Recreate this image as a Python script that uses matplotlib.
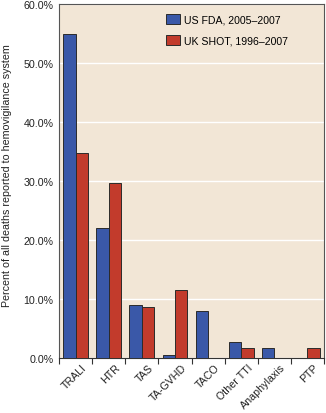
import matplotlib
matplotlib.use("Agg")
import matplotlib.pyplot as plt
import matplotlib.transforms as mtransforms
import numpy as np
from matplotlib.patches import Patch

plt.rcParams['font.family'] = ['Liberation Sans', 'DejaVu Sans']

categories = ["TRALI", "HTR", "TAS", "TA-GVHD", "TACO", "Other TTI", "Anaphylaxis", "PTP"]
us_fda = [55.0, 22.0, 9.0, 0.5, 8.0, 2.7, 1.7, 0.0]
uk_shot = [34.7, 29.6, 8.7, 11.5, 0.0, 1.7, 0.0, 1.7]
series_labels = ["US FDA, 2005\u20132007", "UK SHOT, 1996\u20132007"]
yticks = [0, 10, 20, 30, 40, 50, 60]

blue = "#3a58a8"
red = "#c23b2c"
bg = "#f2e6d6"
edge = "#2b2b2b"
txt = "#222222"

fig = plt.figure(figsize=(3.26, 4.14), dpi=100)
ax = fig.add_axes([59/326, 1 - 359/414, 265/326, 354/414])
ax.set_facecolor(bg)

x = np.arange(len(categories))
w = 0.375
ax.bar(x - w/2, us_fda, w, color=blue, edgecolor=edge, linewidth=0.7, zorder=3)
ax.bar(x + w/2, uk_shot, w, color=red, edgecolor=edge, linewidth=0.7, zorder=3)

ax.set_xlim(-0.5, len(categories) - 0.5)
ax.set_ylim(0, 60)
ax.set_yticks(yticks)
ax.set_yticklabels([f"{v:.1f}%" for v in yticks], fontsize=7.7, color=txt)
ax.tick_params(axis='y', length=0, pad=4)
ax.yaxis.grid(True, color="white", linewidth=1.0, zorder=1)
ax.set_axisbelow(True)

ax.set_xticks(x)
ax.set_xticklabels(categories, rotation=45, ha='right', rotation_mode='anchor', fontsize=7.7, color=txt)
ax.tick_params(axis='x', length=0, pad=3)
offset = mtransforms.ScaledTranslation(6/100, 0, fig.dpi_scale_trans)
for lab in ax.get_xticklabels():
    lab.set_transform(lab.get_transform() + offset)
ax.set_xticks(np.arange(-0.5, len(categories) + 0.5, 1.0), minor=True)
ax.tick_params(axis='x', which='minor', length=4, width=0.8, color="#333333")

for s in ax.spines.values():
    s.set_color("#555555")
    s.set_linewidth(0.8)
ax.spines['bottom'].set_color("#333333")

fig.text(7/326, 1 - 176/414, "Percent of all deaths reported to hemovigilance system",
         rotation=90, ha='center', va='center', fontsize=7.7, color=txt)

handles = [Patch(facecolor=blue, edgecolor=edge, linewidth=0.7),
           Patch(facecolor=red, edgecolor=edge, linewidth=0.7)]
ax.legend(handles, series_labels, loc='upper left', bbox_to_anchor=(0.405, 0.972), frameon=False,
          fontsize=7.6, handlelength=1.25, handleheight=1.1, handletextpad=0.45, labelspacing=1.0,
          borderaxespad=0, borderpad=0)

fig.savefig("out.png", dpi=100)
